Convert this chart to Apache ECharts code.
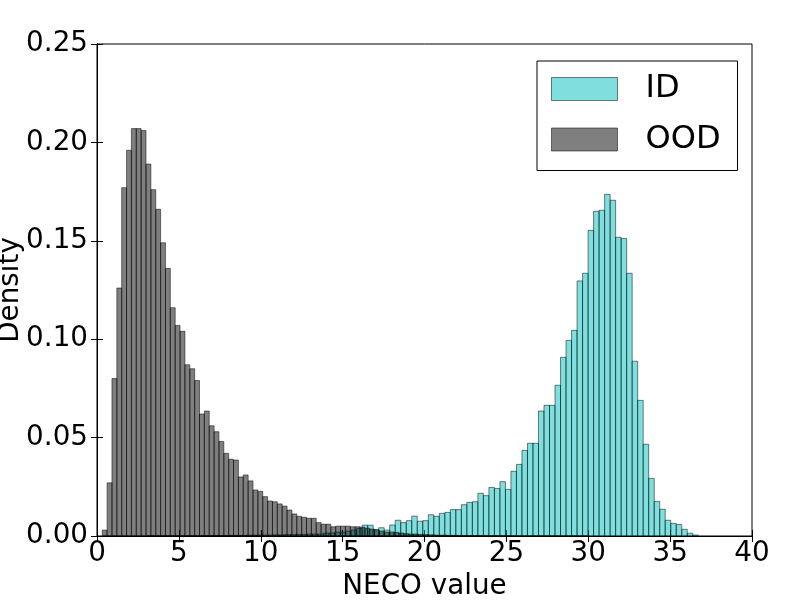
<!DOCTYPE html>
<html>
<head>
<meta charset="utf-8">
<script src="https://cdn.jsdelivr.net/npm/echarts@6/dist/echarts.min.js"></script>
<style>
html,body{margin:0;padding:0;background:#fff;}
#chart{width:800px;height:600px;}
</style>
</head>
<body>
<div id="chart"></div>
<script>
// Histogram bins: start and width of bins (NECO value), densities
const idBinStart = 3.07;
const idBinWidth = 0.3365;
const idDensity = [
  0, 0, 0, 0, 0, 0, 0, 0, 0, 0,
  0.0002, 0.0002, 0.0002, 0.0002, 0.0002, 0.0003, 0.0003, 0.0003, 0.0004, 0.0004,
  0.0005, 0.0005, 0.0005, 0.0006, 0.0006, 0.0007, 0.0007, 0.0008, 0.0008, 0.001,
  0.001, 0.001, 0.0015, 0.0015, 0.002, 0.002, 0.0025, 0.003, 0.0039, 0.0055,
  0.0055, 0.0033, 0.0042, 0.003, 0.0056, 0.0080, 0.0068, 0.0078, 0.0101, 0.0075,
  0.0078, 0.0108, 0.0100, 0.0115, 0.0120, 0.0134, 0.0134, 0.0159, 0.0171, 0.0174,
  0.0217, 0.0205, 0.0247, 0.0241, 0.0276, 0.0237, 0.0329, 0.0364, 0.0435, 0.0471,
  0.0471, 0.0635, 0.0664, 0.0664, 0.0766, 0.0908, 0.0994, 0.1045, 0.1296, 0.1335,
  0.1553, 0.1650, 0.1655, 0.1736, 0.1706, 0.1518, 0.1512, 0.1335, 0.0888, 0.0689,
  0.0466, 0.0293, 0.0176, 0.0136, 0.0080, 0.0064, 0.0058, 0.0034, 0.0014, 0.0005
];

const oodBinStart = 0.32;
const oodBinWidth = 0.297;
const oodDensity = [
  0.003, 0.027, 0.080, 0.126, 0.177, 0.196, 0.207, 0.207, 0.206, 0.189,
  0.176, 0.166, 0.149, 0.136, 0.116, 0.107, 0.104, 0.087, 0.085, 0.079,
  0.062, 0.0635, 0.056, 0.053, 0.048, 0.042, 0.039, 0.0386, 0.030, 0.031,
  0.028, 0.0234, 0.0227, 0.020, 0.0178, 0.0174, 0.0163, 0.0152, 0.0132, 0.0112,
  0.0100, 0.0095, 0.009, 0.009, 0.0068, 0.006, 0.006, 0.0047, 0.005, 0.005,
  0.005, 0.0047, 0.0047, 0.0045, 0.004, 0.0035, 0.003, 0.0025, 0.002, 0.002,
  0.0018, 0.0015, 0.0012, 0.001, 0.001, 0.0008, 0.0007, 0.0006, 0.0005, 0.0004,
  0.0004, 0.0003, 0.0003, 0.0003, 0.0002, 0.0002, 0.0002, 0.0002, 0.0001, 0.0001,
  0.0001, 0.0001, 0.0001, 0.0001, 0, 0, 0, 0, 0, 0,
  0, 0, 0, 0, 0, 0, 0, 0, 0, 0
];

const seriesNames = ['ID', 'OOD'];
const xTicks = [0, 5, 10, 15, 20, 25, 30, 35, 40];
const yTicks = [0.00, 0.05, 0.10, 0.15, 0.20, 0.25];

function binsToData(start, width, dens) {
  return dens.map((v, i) => [start + i * width, start + (i + 1) * width, v]);
}

const idFill = 'rgba(0,191,191,0.5)';
const oodFill = 'rgba(0,0,0,0.5)';
const edge = 'rgba(0,0,0,0.5)';
const FONT = 'DejaVu Sans';

function makeRender(fill) {
  return function (params, api) {
    const x0 = api.value(0), x1 = api.value(1), y = api.value(2);
    const p0 = api.coord([x0, y]);
    const p1 = api.coord([x1, 0]);
    return {
      type: 'rect',
      shape: { x: p0[0], y: p0[1], width: p1[0] - p0[0], height: p1[1] - p0[1] },
      style: { fill: fill, stroke: edge, lineWidth: 1 }
    };
  };
}

const chart = echarts.init(document.getElementById('chart'), null, { renderer: 'canvas' });

const axisCommon = {
  axisLine: { show: true, lineStyle: { color: '#000', width: 1 } },
  axisTick: { show: true, inside: true, length: 6, lineStyle: { color: '#000', width: 1 } },
  splitLine: { show: false }
};

chart.setOption({
  animation: false,
  backgroundColor: '#fff',
  grid: { left: 97, right: 48, top: 44, bottom: 64, containLabel: false, outerBoundsMode: 'none',
    show: true, borderColor: '#000', borderWidth: 1, backgroundColor: 'transparent' },
  legend: {
    orient: 'vertical',
    left: 537, top: 61,
    padding: [12, 17, 15, 14],
    itemWidth: 66, itemHeight: 23, itemGap: 18.5,
    borderColor: '#000', borderWidth: 1, backgroundColor: '#fff',
    textStyle: { fontFamily: FONT, fontSize: 32, color: '#000', padding: [0, 0, 0, 23] },
    data: [
      { name: seriesNames[0], icon: 'rect', itemStyle: { color: idFill, borderColor: edge, borderWidth: 1 } },
      { name: seriesNames[1], icon: 'rect', itemStyle: { color: oodFill, borderColor: edge, borderWidth: 1 } }
    ]
  },
  xAxis: [
    Object.assign({
      type: 'value', min: xTicks[0], max: xTicks[xTicks.length - 1], interval: xTicks[1] - xTicks[0],
      position: 'bottom',
      name: 'NECO value', nameLocation: 'middle', nameGap: 36,
      nameTextStyle: { fontFamily: FONT, fontSize: 27.8, color: '#000' },
      axisLabel: { show: true, margin: 4, fontFamily: FONT, fontSize: 27.8, color: '#000', showMinLabel: true, showMaxLabel: true }
    }, axisCommon),
    Object.assign({
      type: 'value', min: xTicks[0], max: xTicks[xTicks.length - 1], interval: xTicks[1] - xTicks[0],
      position: 'top', axisLabel: { show: false }
    }, axisCommon)
  ],
  yAxis: [
    Object.assign({
      type: 'value', min: yTicks[0], max: yTicks[yTicks.length - 1], interval: yTicks[1] - yTicks[0],
      position: 'left',
      name: 'Density', nameLocation: 'middle', nameGap: 72, nameRotate: 90, nameMoveOverlap: false,
      nameTextStyle: { fontFamily: FONT, fontSize: 27.8, color: '#000' },
      axisLabel: { show: true, margin: 9, fontFamily: FONT, fontSize: 27.8, color: '#000', showMinLabel: true, showMaxLabel: true,
        formatter: v => v.toFixed(2) }
    }, axisCommon),
    Object.assign({
      type: 'value', min: yTicks[0], max: yTicks[yTicks.length - 1], interval: yTicks[1] - yTicks[0],
      position: 'right', axisLabel: { show: false }
    }, axisCommon)
  ],
  series: [
    {
      name: seriesNames[0], type: 'custom', xAxisIndex: 0, yAxisIndex: 0,
      renderItem: makeRender(idFill),
      itemStyle: { color: idFill, borderColor: edge, borderWidth: 1 },
      encode: { x: [0, 1], y: 2 },
      data: binsToData(idBinStart, idBinWidth, idDensity)
    },
    {
      name: seriesNames[1], type: 'custom', xAxisIndex: 0, yAxisIndex: 0,
      renderItem: makeRender(oodFill),
      itemStyle: { color: oodFill, borderColor: edge, borderWidth: 1 },
      encode: { x: [0, 1], y: 2 },
      data: binsToData(oodBinStart, oodBinWidth, oodDensity)
    }
  ]
});
</script>
</body>
</html>
